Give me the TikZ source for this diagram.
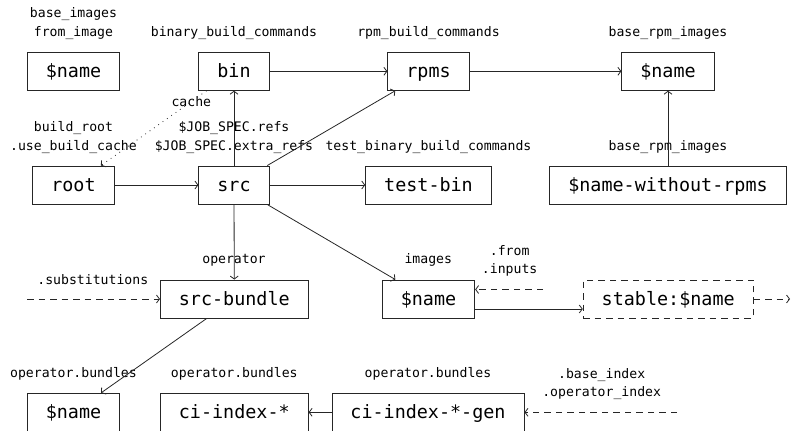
\documentclass[tikz,border=0pt]{standalone}
\usepackage{fontspec}
\newfontfamily\monofont{DejaVu Sans Mono}
\usetikzlibrary{arrows.meta}

\colorlet{ink}{black!85}

\tikzset{
  box/.style={draw=ink, line width=0.9pt, font=\monofont\fontsize{18.4pt}{22pt}\selectfont,
    minimum height=38pt, inner xsep=18.5pt, inner ysep=0pt,
    text height=13pt, text depth=0pt},
  dbox/.style={box, dash pattern=on 6.5pt off 5pt},
  lbl/.style={font=\monofont\fontsize{13.15pt}{16pt}\selectfont, inner sep=0pt, anchor=base},
  edge/.style={draw=ink, line width=0.8pt, -{Straight Barb[length=3pt,width=8pt]}},
  dedge/.style={edge, dash pattern=on 6.5pt off 5pt},
  dotedge/.style={edge, dash pattern=on 0.8pt off 4.5pt},
}

\begin{document}
\begin{tikzpicture}[x=1pt, y=-1pt]
  \useasboundingbox (0,0) rectangle (793,431);
  \clip (0,0) rectangle (793,431);

  % boxes, row by row
  \node[box] (bimg)      at (73.5,71.3)  {\$name};
  \node[box] (bin)       at (234,71.3)   {bin};
  \node[box] (rpms)      at (428.5,71.3) {rpms};
  \node[box] (rpmimg)    at (668,71.3)   {\$name};

  \node[box] (root)      at (73.5,185)   {root};
  \node[box] (src)       at (234,185)    {src};
  \node[box] (testbin)   at (428.5,185)  {test-bin};
  \node[box] (wo)        at (668,185)    {\$name-without-rpms};

  \node[box] (srcbundle) at (234.3,299)  {src-bundle};
  \node[box] (img)       at (428.5,299)  {\$name};
  \node[dbox] (stable)   at (668.2,299)  {stable:\$name};

  \node[box] (opimg)     at (73.5,412.3) {\$name};
  \node[box] (ciindex)   at (234.3,412.3){ci-index-*};
  \node[box] (cigen)     at (428,412.3)  {ci-index-*-gen};

  % labels
  \node[lbl] (l-bimg-a)   at (73.5,17.7)  {base\_images};
  \node[lbl] (l-bimg-b)   at (73.5,36.2)  {from\_image};
  \node[lbl] (l-bin)      at (234,36.2)   {binary\_build\_commands};
  \node[lbl] (l-rpms)     at (428.5,36.2) {rpm\_build\_commands};
  \node[lbl] (l-rpmimg)   at (668,36.2)   {base\_rpm\_images};

  \node[lbl] (l-root-a)   at (73.5,131.5) {build\_root};
  \node[lbl] (l-root-b)   at (73.5,150.5) {.use\_build\_cache};
  \node[lbl] (l-src-a)    at (234,131.5)  {\$JOB\_SPEC.refs};
  \node[lbl] (l-src-b)    at (234,150.5)  {\$JOB\_SPEC.extra\_refs};
  \node[lbl] (l-testbin)  at (428.5,150.5){test\_binary\_build\_commands};
  \node[lbl] (l-wo)       at (668,150.5)  {base\_rpm\_images};
  \node[lbl] (l-cache)    at (191.3,106.7){cache};

  \node[lbl] (l-srcb)     at (234,263.5)  {operator};
  \node[lbl] (l-img)      at (428.3,263.5){images};
  \node[lbl] (l-subst)    at (92.8,284.3) {.substitutions};
  \node[lbl] (l-from-a)   at (509.7,255)  {.from};
  \node[lbl] (l-from-b)   at (509.7,273.3){.inputs};

  \node[lbl] (l-opimg)    at (73.5,377)   {operator.bundles};
  \node[lbl] (l-ciindex)  at (234.3,377)  {operator.bundles};
  \node[lbl] (l-cigen)    at (428,377)    {operator.bundles};
  \node[lbl] (l-idx-a)    at (601.7,378)  {.base\_index};
  \node[lbl] (l-idx-b)    at (601.7,396.7){.operator\_index};

  % free ends of the open connectors
  \coordinate (subst-in) at (27,299);
  \coordinate (from-in)  at (543,289.5);
  \coordinate (out)      at (790,299);
  \coordinate (idx-in)   at (677,412.3);

  % connectors
  \draw[edge] (bin) -- (rpms);
  \draw[edge] (rpms) -- (rpmimg);
  \draw[edge] (wo) -- (rpmimg);
  \draw[edge] (root) -- (src);
  \draw[edge] (src) -- (bin);
  \draw[edge] (src) -- (rpms);
  \draw[edge] (src) -- (testbin);
  \draw[edge] (src) -- (srcbundle);
  \draw[edge] (src) -- (img);
  \draw[dotedge] (bin) -- (root);
  \draw[edge] (srcbundle) -- (opimg);
  \draw[edge] (cigen) -- (ciindex);
  \draw[edge] ([yshift=-10pt]img.east) -- ([yshift=-10pt]stable.west);
  \draw[dedge] (from-in) -- ([yshift=9.5pt]img.east);
  \draw[dedge] (stable) -- (out);
  \draw[dedge] (subst-in) -- (srcbundle);
  \draw[dedge] (idx-in) -- (cigen);
\end{tikzpicture}
\end{document}
